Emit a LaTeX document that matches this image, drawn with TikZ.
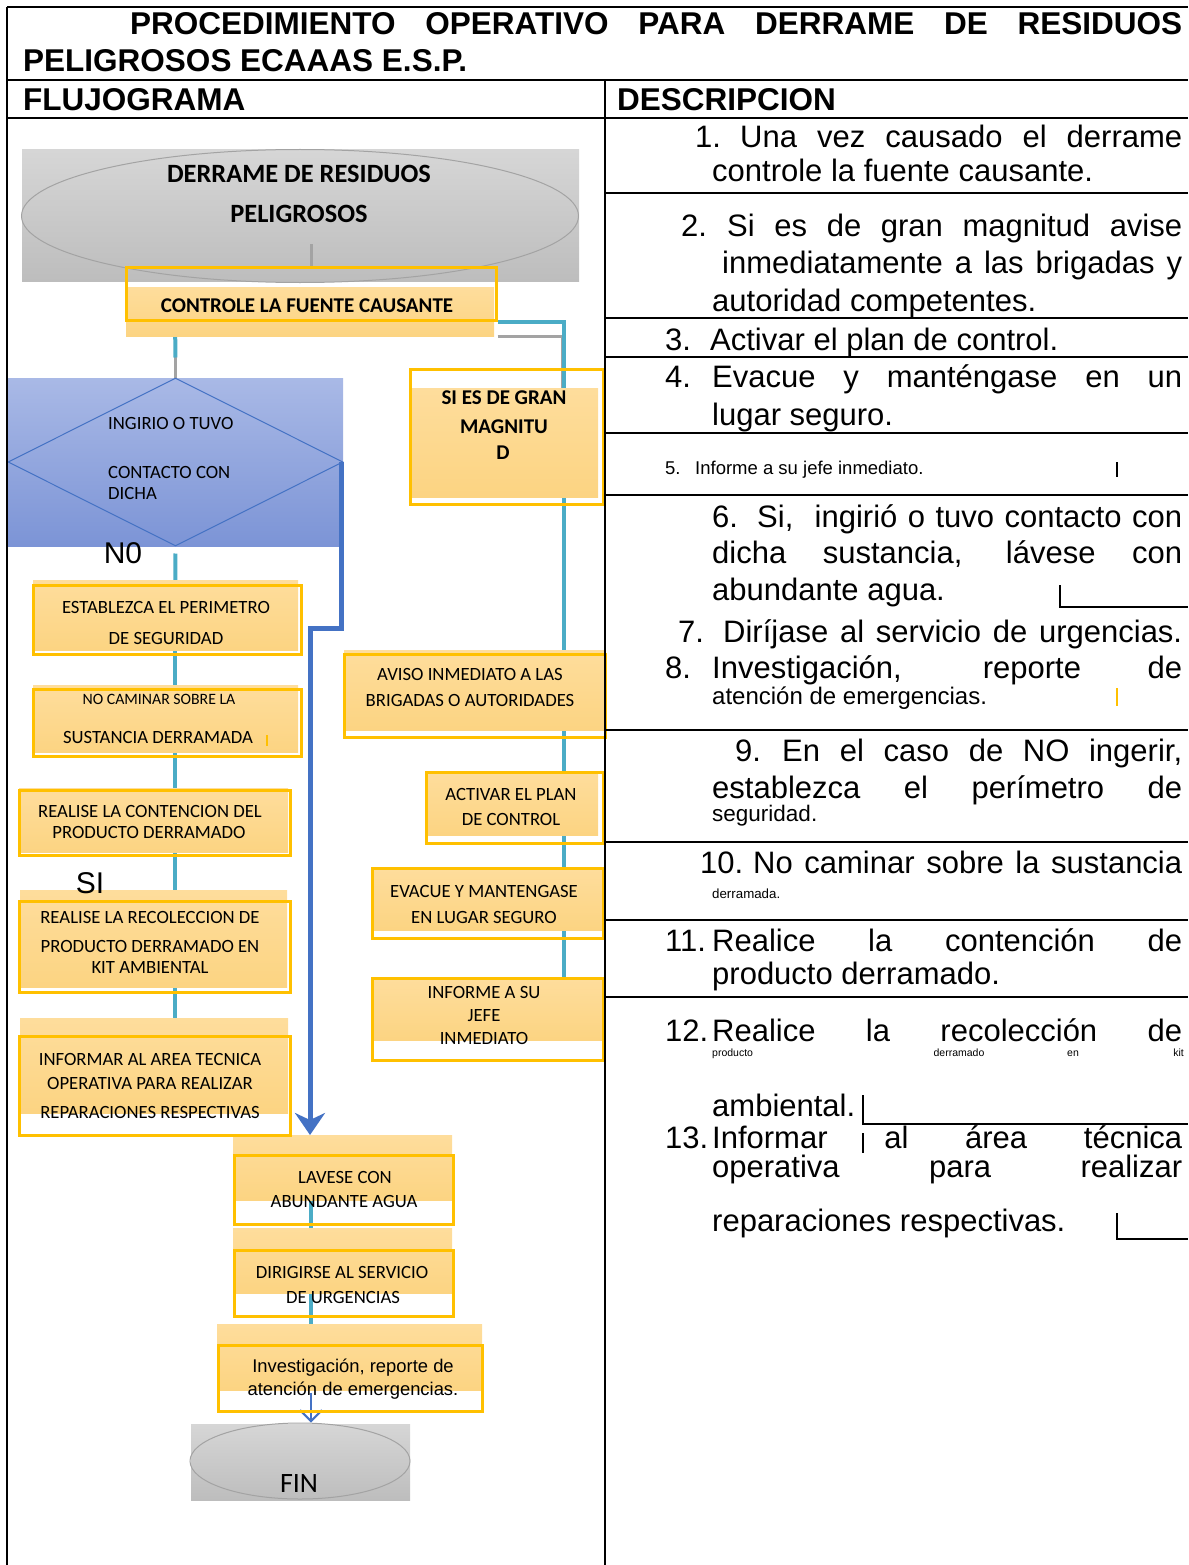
\documentclass[tikz,border=0pt]{standalone}
\usepackage{fontspec}
\setmainfont{Liberation Sans}
\newfontfamily\calibri{Carlito}
\usetikzlibrary{arrows.meta,shapes.geometric,fit}

\definecolor{naranja}{HTML}{FFC000}
\definecolor{cremaA}{HTML}{FEDD9C}
\definecolor{cremaB}{HTML}{FCD482}
\definecolor{turquesa}{HTML}{4BACC6}
\definecolor{azulr}{HTML}{4472C4}
\definecolor{rombA}{HTML}{A9B9E6}
\definecolor{rombB}{HTML}{7C94D6}
\definecolor{grisA}{HTML}{D6D6D6}
\definecolor{grisB}{HTML}{BDBDBD}
\definecolor{grisL}{HTML}{A3A3A3}

\newcommand\tam[1]{\fontsize{#1}{#1}\selectfont}

\pgfdeclarelayer{fondo}
\pgfdeclarelayer{enlaces}
\pgfsetlayers{fondo,enlaces,main}

\begin{document}
\begin{tikzpicture}[x=1pt, y=-1pt,
  regla/.style={line width=2.6pt},
  caja/.style={draw=naranja, line width=3pt, inner sep=0pt},
  crema/.style={top color=cremaA, bottom color=cremaB},
  enlace/.style={draw=turquesa, line width=4pt},
  guia/.style={draw=azulr, line width=5pt},
  sombra/.style={draw=grisL, line width=3pt},
  cal/.style={font=\calibri\tam{18.7}, inner sep=0pt, anchor=base},
  calb/.style={font=\calibri\bfseries\tam{21}, inner sep=0pt, anchor=base},
  desc/.style={font=\tam{31}, inner sep=0pt, anchor=base west},
  cab/.style={font=\bfseries\tam{31.5}, inner sep=0pt, anchor=base west}]

  \useasboundingbox (0,0) rectangle (1188,1565);

  % --- Cabecera ---
  \node[cab] (tit1) at (130,35) {\makebox[1052pt][s]{PROCEDIMIENTO OPERATIVO PARA DERRAME DE RESIDUOS}};
  \node[cab] (tit2) at (23,72) {PELIGROSOS ECAAAS E.S.P.};
  \node[cab] (flujo) at (23,111) {FLUJOGRAMA};
  \node[cab] (descr) at (617,111) {DESCRIPCION};

  % --- Fondos (inicio, decision, fin) ---
  \begin{pgfonlayer}{fondo}
    \shade[top color=grisA, bottom color=grisB] (22,150) rectangle (579,281);
    \shade[top color=rombA, bottom color=rombB] (7,378) rectangle (343,546);
    \shade[top color=grisA, bottom color=grisB] (191,1424) rectangle (410,1500);
  \end{pgfonlayer}

  \node[ellipse, draw=grisL, line width=1pt, minimum width=557pt, minimum height=133pt] (inicio) at (300,216) {};
  \node[diamond, draw=azulr, line width=1pt, minimum width=335pt, minimum height=168pt, inner sep=0pt] (rombo) at (175.5,462) {};
  \node[ellipse, draw=grisL, line width=1pt, minimum width=220pt, minimum height=76pt] (fin) at (300,1461) {};

  % --- Rellenos de las cajas (desplazados del borde) ---
  \shade[crema] (126,287) rectangle (494,336);
  \shade[crema] (410,388) rectangle (598,497);
  \shade[crema] (33,580) rectangle (298,650);
  \shade[crema] (33,685) rectangle (298,752);
  \shade[crema] (19,788) rectangle (288,852);
  \shade[crema] (20,890) rectangle (287,987);
  \shade[crema] (20,1018) rectangle (288,1113);
  \shade[crema] (344,650) rectangle (605,730);
  \shade[crema] (426,772) rectangle (598,835);
  \shade[crema] (372,868) rectangle (603,930);
  \shade[crema] (372,978) rectangle (603,1040);
  \shade[crema] (233,1135) rectangle (452,1200);
  \shade[crema] (233,1228) rectangle (452,1293);
  \shade[crema] (217,1324) rectangle (482,1390);

  % --- Cajas ---
  \node[caja, fit={(126,267) (496,320)}] (control) {};
  \node[caja, fit={(410,369) (603,504)}] (magnitud) {};
  \node[caja, fit={(33,585) (301,654)}] (perim) {};
  \node[caja, fit={(33,689) (301,756)}] (camina) {};
  \node[caja, fit={(19,790) (290,855)}] (conten) {};
  \node[caja, fit={(19,901) (290,992)}] (recol) {};
  \node[caja, fit={(19,1036) (290,1135)}] (informar) {};
  \node[caja, fit={(344,654) (605,737)}] (aviso) {};
  \node[caja, fit={(426,772) (603,843)}] (activar) {};
  \node[caja, fit={(372,868) (603,938)}] (evacue) {};
  \node[caja, fit={(372,978) (603,1060)}] (informe) {};
  \node[caja, fit={(234,1155) (453,1224)}] (lavese) {};
  \node[caja, fit={(234,1250) (453,1316)}] (dirige) {};
  \node[caja, fit={(218,1345) (482,1411)}] (invest) {};

  % --- Conectores ---
  \coordinate (colizq) at (175,0);
  \coordinate (colder) at (564,0);
  \coordinate (colbaja) at (311,0);
  \coordinate (llegada) at (310,1135);
  \begin{pgfonlayer}{enlaces}
    \draw[sombra] ([yshift=-28pt]inicio.center -| control.north) -- (control.north);
    \draw[sombra] ([yshift=22pt]rombo.north) -- (rombo.north);
    \draw[enlace] (control.south -| colizq) -- ([yshift=20pt]rombo.north);
    \draw[sombra] ([yshift=-15pt]control.south east) -| ([xshift=-2pt]magnitud.center -| colder);
    \draw[enlace] (control.south east) -| (magnitud.center -| colder);
    \draw[enlace, shorten <=7pt] (rombo.south) -- (perim.center -| colizq);
    \draw[enlace] (perim.center -| colizq) -- (camina.center -| colizq);
    \draw[enlace] (camina.center -| colizq) -- (conten.center -| colizq);
    \draw[enlace] (conten.center -| colizq) -- (recol.center -| colizq);
    \draw[enlace] (recol.center -| colizq) -- (informar.center -| colizq);
    \draw[enlace] (magnitud.center -| colder) -- (aviso.center -| colder);
    \draw[enlace] (aviso.center -| colder) -- (activar.center -| colder);
    \draw[enlace] (activar.center -| colder) -- (evacue.center -| colder);
    \draw[enlace] (evacue.center -| colder) -- (informe.center -| colder);
    \draw[enlace] (lavese.center -| colbaja) -- (dirige.center -| colbaja);
    \draw[enlace] (dirige.center -| colbaja) -- (invest.center -| colbaja);
    \draw[guia, -{Stealth[length=22pt, width=30pt, inset=7pt]}] ([xshift=-2pt]rombo.east) -- ++(0,166) -| (llegada);
    \draw[draw=azulr, line width=2pt, shorten <=-20pt, -{Straight Barb[length=11pt, width=22pt]}] (invest.south -| colbaja) -- (fin.north -| colbaja);
  \end{pgfonlayer}

  % --- Textos del flujograma ---
  \node[calb, font=\calibri\bfseries\tam{26.4}] (t-ini1) at (299,182.5) {DERRAME DE RESIDUOS};
  \node[calb, font=\calibri\bfseries\tam{26.4}] (t-ini2) at (299,222.5) {PELIGROSOS};
  \node[calb] (t-control) at (307,312) {CONTROLE LA FUENTE CAUSANTE};
  \node[cal, anchor=base west] (t-rom1) at (108,429) {INGIRIO O TUVO};
  \node[cal, anchor=base west] (t-rom2) at (108,478) {CONTACTO CON};
  \node[cal, anchor=base west] (t-rom3) at (108,499) {DICHA};
  \node[calb] (t-mag1) at (504,404) {SI ES DE GRAN};
  \node[calb] (t-mag2) at (504,433) {MAGNITU};
  \node[calb] (t-mag3) at (503,459) {D};
  \node[cal] (t-per1) at (166,613) {ESTABLEZCA EL PERIMETRO};
  \node[cal] (t-per2) at (166,644) {DE SEGURIDAD};
  \node[cal, font=\calibri\tam{15.8}] (t-cam1) at (159,704) {NO CAMINAR SOBRE LA};
  \node[cal] (t-cam2) at (158,743) {SUSTANCIA DERRAMADA};
  \node[cal] (t-con1) at (150,817) {REALISE LA CONTENCION DEL};
  \node[cal] (t-con2) at (149,838) {PRODUCTO DERRAMADO};
  \node[cal] (t-rec1) at (150,923) {REALISE LA RECOLECCION DE};
  \node[cal] (t-rec2) at (150,952) {PRODUCTO DERRAMADO EN};
  \node[cal] (t-rec3) at (150,973) {KIT AMBIENTAL};
  \node[cal] (t-inf1) at (150,1065) {INFORMAR AL AREA TECNICA};
  \node[cal] (t-inf2) at (150,1089) {OPERATIVA PARA REALIZAR};
  \node[cal] (t-inf3) at (150,1118) {REPARACIONES RESPECTIVAS};
  \node[cal] (t-avi1) at (470,680) {AVISO INMEDIATO A LAS};
  \node[cal] (t-avi2) at (470,706) {BRIGADAS O AUTORIDADES};
  \node[cal] (t-act1) at (511,800) {ACTIVAR EL PLAN};
  \node[cal] (t-act2) at (511,825) {DE CONTROL};
  \node[cal] (t-eva1) at (484,897) {EVACUE Y MANTENGASE};
  \node[cal] (t-eva2) at (484,923) {EN LUGAR SEGURO};
  \node[cal] (t-jef1) at (484,998) {INFORME A SU};
  \node[cal] (t-jef2) at (484,1021) {JEFE};
  \node[cal] (t-jef3) at (484,1044) {INMEDIATO};
  \node[cal] (t-lav1) at (345,1183) {LAVESE CON};
  \node[cal] (t-lav2) at (344,1207) {ABUNDANTE AGUA};
  \node[cal] (t-dir1) at (342,1278) {DIRIGIRSE AL SERVICIO};
  \node[cal] (t-dir2) at (343,1303) {DE URGENCIAS};
  \node[cal, font=\tam{18.4}] (t-inv1) at (353,1372.6) {Investigación, reporte de};
  \node[cal, font=\tam{18.4}] (t-inv2) at (353,1395.6) {atención de emergencias.};
  \node[cal, font=\calibri\tam{28}] (t-fin) at (299,1492) {FIN};
  \node[cal, font=\tam{30}] (t-no) at (123,563) {N0};
  \node[cal, font=\tam{30}] (t-si) at (90,893) {SI};
  \draw[naranja, line width=2pt] (267,735) -- (267,746);

  % --- Descripcion ---
  \node[desc] (d1a) at (695,148) {\makebox[45pt][l]{1.}\makebox[442pt][s]{Una vez causado el derrame}};
  \node[desc] (d1b) at (712,182) {controle la fuente causante.};
  \node[desc] (d2a) at (681,236) {\makebox[46pt][l]{2.}\makebox[455pt][s]{Si es de gran magnitud avise}};
  \node[desc] (d2b) at (722,273) {\makebox[460pt][s]{inmediatamente a las brigadas y}};
  \node[desc] (d2c) at (712,311) {autoridad competentes.};
  \node[desc] (d3) at (665,350) {\makebox[45pt][l]{3.}Activar el plan de control.};
  \node[desc] (d4a) at (665,387) {\makebox[47pt][l]{4.}\makebox[470pt][s]{Evacue y manténgase en un}};
  \node[desc] (d4b) at (712,425) {lugar seguro.};
  \node[desc, font=\tam{18.5}] (d5) at (665,474) {\makebox[30pt][l]{5.}Informe a su jefe inmediato.};
  \node[desc] (d6a) at (712,527) {\makebox[45pt][l]{6.}\makebox[425pt][s]{Si, \ ingirió o tuvo contacto con}};
  \node[desc] (d6b) at (712,563) {\makebox[470pt][s]{dicha sustancia, lávese con}};
  \node[desc] (d6c) at (712,600) {abundante agua.};
  \node[desc] (d7) at (678,642) {\makebox[45pt][l]{7.}\makebox[459pt][s]{Diríjase al servicio de urgencias.}};
  \node[desc] (d8a) at (665,678) {\makebox[47pt][l]{8.}\makebox[470pt][s]{Investigación, reporte de}};
  \node[desc, font=\tam{24}] (d8b) at (712,704) {atención de emergencias.};
  \node[desc] (d9a) at (735,761) {\makebox[47pt][l]{9.}\makebox[400pt][s]{En el caso de NO ingerir,}};
  \node[desc] (d9b) at (712,798) {\makebox[470pt][s]{establezca el perímetro de}};
  \node[desc, font=\tam{22.5}] (d9c) at (712,821) {seguridad.};
  \node[desc] (d10a) at (700,873) {\makebox[53pt][l]{10.}\makebox[429pt][s]{No caminar sobre la sustancia}};
  \node[desc, font=\tam{13.3}] (d10b) at (712,898) {derramada.};
  \node[desc] (d11a) at (665,951) {\makebox[47pt][l]{11.}\makebox[470pt][s]{Realice la contención de}};
  \node[desc] (d11b) at (712,984) {producto derramado.};
  \node[desc] (d12a) at (665,1041) {\makebox[47pt][l]{12.}\makebox[470pt][s]{Realice la recolección de}};
  \node[desc, font=\tam{10.5}] (d12p) at (712,1056) {producto};
  \node[desc, font=\tam{10.5}, anchor=base] (d12d) at (959,1056) {derramado};
  \node[desc, font=\tam{10.5}, anchor=base] (d12e) at (1073,1056) {en};
  \node[desc, font=\tam{10.5}, anchor=base east] (d12k) at (1184,1056) {kit};
  \node[desc] (d12c) at (712,1116) {ambiental.};
  \node[desc] (d13a) at (665,1148) {\makebox[47pt][l]{13.}\makebox[470pt][s]{Informar al área técnica}};
  \node[desc] (d13b) at (712,1177) {\makebox[470pt][s]{operativa para realizar}};
  \node[desc] (d13c) at (712,1231) {reparaciones respectivas.};

  % --- Marcas sueltas ---
  \draw[line width=2.5pt] (1117,462) -- (1117,477);
  \draw[naranja, line width=2.5pt] (1117,688) -- (1117,706);
  \draw[line width=2.5pt] (1060,585) -- (1060,607) -- (1188,607);
  \draw[line width=2.5pt] (863,1095) -- (863,1124) -- (1188,1124);
  \draw[line width=2.5pt] (863,1133) -- (863,1153);
  \draw[line width=2.5pt] (1117,1213) -- (1117,1239) -- (1188,1239);

  % --- Rejilla de la tabla ---
  \draw[regla] (7,7) -- (1188,7);
  \draw[regla] (7,7) -- (7,1565);
  \draw[regla] (7,80) -- (1188,80);
  \draw[regla] (7,118) -- (1188,118);
  \draw[regla] (605,80) -- (605,1565);
  \foreach \y in {193,318,357,433,495,730,842,920,997}
    \draw[regla] (605,\y) -- (1188,\y);

\end{tikzpicture}
\end{document}
